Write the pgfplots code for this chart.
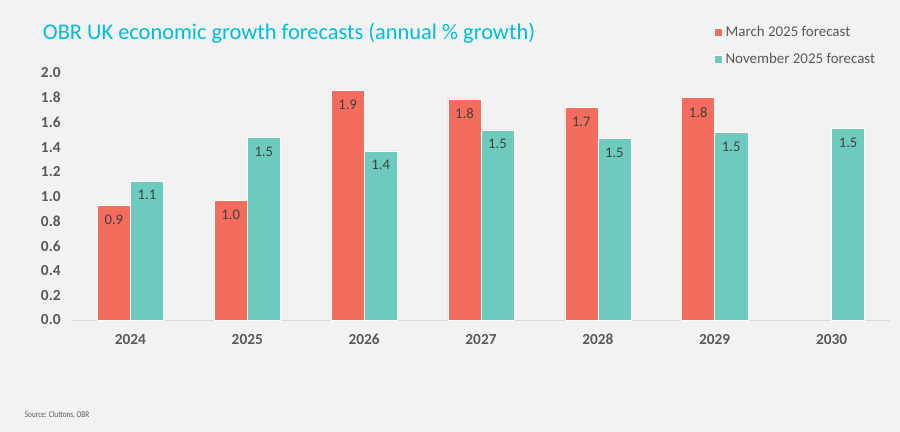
\documentclass[border=0pt]{standalone}
\usepackage{fontspec}
\setmainfont{Carlito}
\usepackage{pgfplots}
\pgfplotsset{compat=1.18}
\definecolor{bg}{RGB}{242,242,242}
\definecolor{marred}{RGB}{244,108,94}
\definecolor{novteal}{RGB}{109,203,190}
\definecolor{titlecyan}{RGB}{0,190,215}
\definecolor{txt}{RGB}{89,89,89}
\definecolor{lbl}{RGB}{64,64,64}
\begin{document}
\begin{tikzpicture}
\fill[bg] (0,0) rectangle (675pt,324pt);
\path[use as bounding box] (0,0) rectangle (675pt,324pt);
\node[anchor=west, text=titlecyan, font=\fontsize{16.8}{20}\selectfont, inner sep=0pt] at (32pt,299pt) {OBR UK economic growth forecasts (annual \% growth)};
\node[anchor=west, text=txt, font=\fontsize{6.6}{8}\selectfont, inner sep=0pt] at (18.5pt,12.5pt) {\scalebox{0.82}[1]{Source: Cluttons, OBR}};
\begin{axis}[
  at={(54pt,84pt)}, anchor=south west,
  scale only axis, width=613.5pt, height=185.25pt,
  ybar=0pt, bar width=0.283,
  xmin=-0.5, xmax=6.5, ymin=0, ymax=2,
  xtick={0,1,2,3,4,5,6},
  xticklabels={2024,2025,2026,2027,2028,2029,2030},
  ytick={0,0.2,0.4,0.6,0.8,1.0,1.2,1.4,1.6,1.8,2.0},
  /pgf/number format/assume math mode=true,
  yticklabel style={xshift=-5pt, /pgf/number format/.cd, fixed, fixed zerofill, precision=1},
  tick label style={font=\bfseries\fontsize{11.5}{13}\selectfont, text=txt},
  axis lines=left,
  x axis line style={draw=black!15, -},
  y axis line style={draw=none},
  major tick length=0pt,
  xticklabel style={yshift=-7pt},
  clip=false,
  nodes near coords={\pgfplotspointmeta},
  point meta=explicit symbolic,
  every node near coord/.append style={anchor=north, yshift=-3.5pt, font=\fontsize{11}{13}\selectfont, text=lbl},
  legend style={at={(0.785,1.20)}, anchor=north west, draw=none, fill=none,
    font=\fontsize{11.2}{13}\selectfont, text=txt, row sep=6.5pt, inner sep=0pt,
    /tikz/every even column/.append style={column sep=3.5pt}},
  legend cell align=left,
  legend image code/.code={\fill[#1] (0pt,-3pt) rectangle (6pt,3pt);},
]
\addplot[fill=marred, draw=white, line width=0.4pt] coordinates {
 (0,0.93) [0.9] (1,0.97) [1.0] (2,1.86) [1.9] (3,1.79) [1.8] (4,1.72) [1.7] (5,1.80) [1.8]};
\addplot[fill=novteal, draw=white, line width=0.4pt] coordinates {
 (0,1.125) [1.1] (1,1.48) [1.5] (2,1.37) [1.4] (3,1.54) [1.5] (4,1.47) [1.5] (5,1.52) [1.5] (6,1.55) [1.5]};
\legend{March 2025 forecast, November 2025 forecast}
\end{axis}
\end{tikzpicture}
\end{document}
